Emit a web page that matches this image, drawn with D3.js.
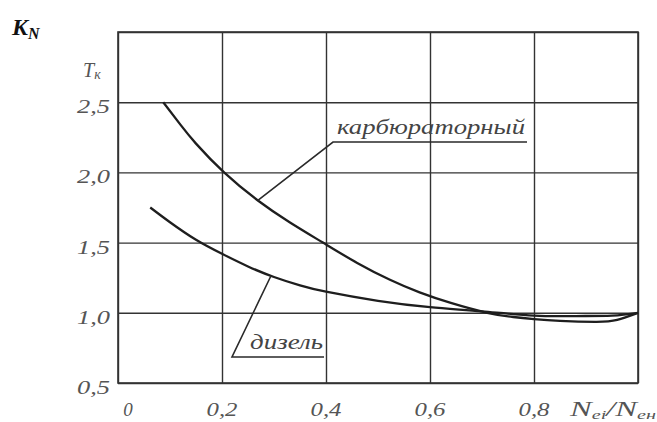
<!DOCTYPE html>
<html>
<head>
<meta charset="utf-8">
<script src="https://cdnjs.cloudflare.com/ajax/libs/d3/7.8.5/d3.min.js"></script>
<style>
  body { margin: 0; background: #fff; }
  svg { display: block; }
</style>
</head>
<body>
<svg id="chart"></svg>
<script>
/* data */
var xTicks = [0, 0.2, 0.4, 0.6, 0.8, 1.0];
var yTicks = [0.5, 1.0, 1.5, 2.0, 2.5, 3.0];

var carbX = [0.087, 0.12, 0.15, 0.204, 0.269, 0.33, 0.394, 0.46, 0.523, 0.58, 0.64, 0.71, 0.76, 0.8, 0.85, 0.92, 0.96, 1.0];
var carbY = [2.5, 2.34, 2.205, 2.0, 1.80, 1.645, 1.5, 1.355, 1.235, 1.145, 1.07, 1.0, 0.97, 0.955, 0.942, 0.936, 0.95, 1.0];

var dizX = [0.062, 0.1, 0.15, 0.2, 0.25, 0.3, 0.35, 0.4, 0.5, 0.6, 0.7, 0.8, 0.88, 0.95, 1.0];
var dizY = [1.75, 1.645, 1.52, 1.42, 1.33, 1.255, 1.195, 1.15, 1.085, 1.04, 1.01, 0.98, 0.977, 0.98, 1.0];

var W = 657, H = 422;
var svg = d3.select('#chart').attr('width', W).attr('height', H);

var x = d3.scaleLinear().domain([0, 1]).range([118, 638]);
var y = d3.scaleLinear().domain([0.5, 3]).range([383, 32]);

var fmt = function(v){ return d3.format('.1f')(v).replace('.', ','); };
var serif = '"Liberation Serif", "DejaVu Serif", serif';

/* grid via axes */
var gx = svg.append('g')
    .attr('transform', 'translate(0,' + y(0.5) + ')')
    .call(d3.axisBottom(x).tickValues(xTicks).tickSize(-(y(0.5) - y(3))).tickFormat(''));
var gy = svg.append('g')
    .attr('transform', 'translate(' + x(0) + ',0)')
    .call(d3.axisLeft(y).tickValues(yTicks).tickSize(-(x(1) - x(0))).tickFormat(''));
[gx, gy].forEach(function(g){
    g.select('.domain').remove();
    g.selectAll('.tick line').attr('stroke', '#333').attr('stroke-width', 1.4);
});

svg.append('rect')
    .attr('x', x(0)).attr('y', y(3))
    .attr('width', x(1) - x(0)).attr('height', y(0.5) - y(3))
    .attr('fill', 'none').attr('stroke', '#333').attr('stroke-width', 1.6);

/* tick labels */
svg.append('g').selectAll('text')
    .data(yTicks.filter(function(d){ return d < 3; }))
    .enter().append('text')
    .attr('x', 110)
    .attr('y', function(d){ return y(d) + 11; })
    .attr('text-anchor', 'end')
    .attr('font-family', serif).attr('font-style', 'italic')
    .attr('font-size', 19).attr('fill', '#555')
    .attr('textLength', 33).attr('lengthAdjust', 'spacingAndGlyphs')
    .text(fmt);

svg.append('g').selectAll('text')
    .data(xTicks.filter(function(d){ return d < 1; }))
    .enter().append('text')
    .attr('x', function(d){ return d === 0 ? x(d) + 10 : x(d); })
    .attr('y', 416)
    .attr('text-anchor', 'middle')
    .attr('font-family', serif).attr('font-style', 'italic')
    .attr('font-size', 19).attr('fill', '#555')
    .each(function(d){
        var t = d3.select(this).text(d === 0 ? '0' : fmt(d));
        if(d !== 0) t.attr('textLength', 31).attr('lengthAdjust', 'spacingAndGlyphs');
    });

/* axis titles */
var kn = svg.append('text')
    .attr('x', 12).attr('y', 35)
    .attr('font-family', serif).attr('font-style', 'italic').attr('font-weight', 'bold')
    .attr('font-size', 24).attr('fill', '#111');
kn.append('tspan').text('K');
kn.append('tspan').attr('font-size', 16).attr('dy', 4).text('N');

var tk = svg.append('text')
    .attr('x', 83).attr('y', 77)
    .attr('font-family', serif).attr('font-style', 'italic')
    .attr('font-size', 20).attr('fill', '#555');
tk.append('tspan').text('T');
tk.append('tspan').attr('font-size', 14).attr('dy', 2).text('к');

var nn = svg.append('text')
    .attr('x', 570).attr('y', 416)
    .attr('font-family', serif).attr('font-style', 'italic')
    .attr('font-size', 21).attr('fill', '#555')
    .attr('textLength', 86).attr('lengthAdjust', 'spacingAndGlyphs');
nn.append('tspan').text('N');
nn.append('tspan').attr('font-size', 13).attr('dy', 3).text('ei');
nn.append('tspan').attr('dy', -3).text('/N');
nn.append('tspan').attr('font-size', 13).attr('dy', 3).text('eн');

/* curves */
var line = d3.line()
    .x(function(d){ return x(d[0]); })
    .y(function(d){ return y(d[1]); })
    .curve(d3.curveNatural);

function drawCurve(xs, ys){
    svg.append('path')
        .datum(d3.zip(xs, ys))
        .attr('d', line)
        .attr('fill', 'none')
        .attr('stroke', '#1e1e1e')
        .attr('stroke-width', 2.3);
}
drawCurve(carbX, carbY);
drawCurve(dizX, dizY);

/* callouts */
function callout(px, py, lx, ly, ulEnd, label, tx, tLen, fs){
    svg.append('polyline')
        .attr('points', [[x(px), y(py)], [lx, ly], [ulEnd, ly]].map(function(p){ return p.join(','); }).join(' '))
        .attr('fill', 'none').attr('stroke', '#2a2a2a').attr('stroke-width', 1.6);
    svg.append('text')
        .attr('x', tx).attr('y', ly - 8)
        .attr('font-family', serif).attr('font-style', 'italic')
        .attr('font-size', fs).attr('fill', '#444')
        .attr('textLength', tLen).attr('lengthAdjust', 'spacingAndGlyphs')
        .text(label);
}
callout(0.269, 1.80, 333, 142, 527, 'карбюраторный', 337, 188, 22);
callout(0.294, 1.262, 232, 357, 324, 'дизель', 250, 73, 21);
</script>
</body>
</html>
